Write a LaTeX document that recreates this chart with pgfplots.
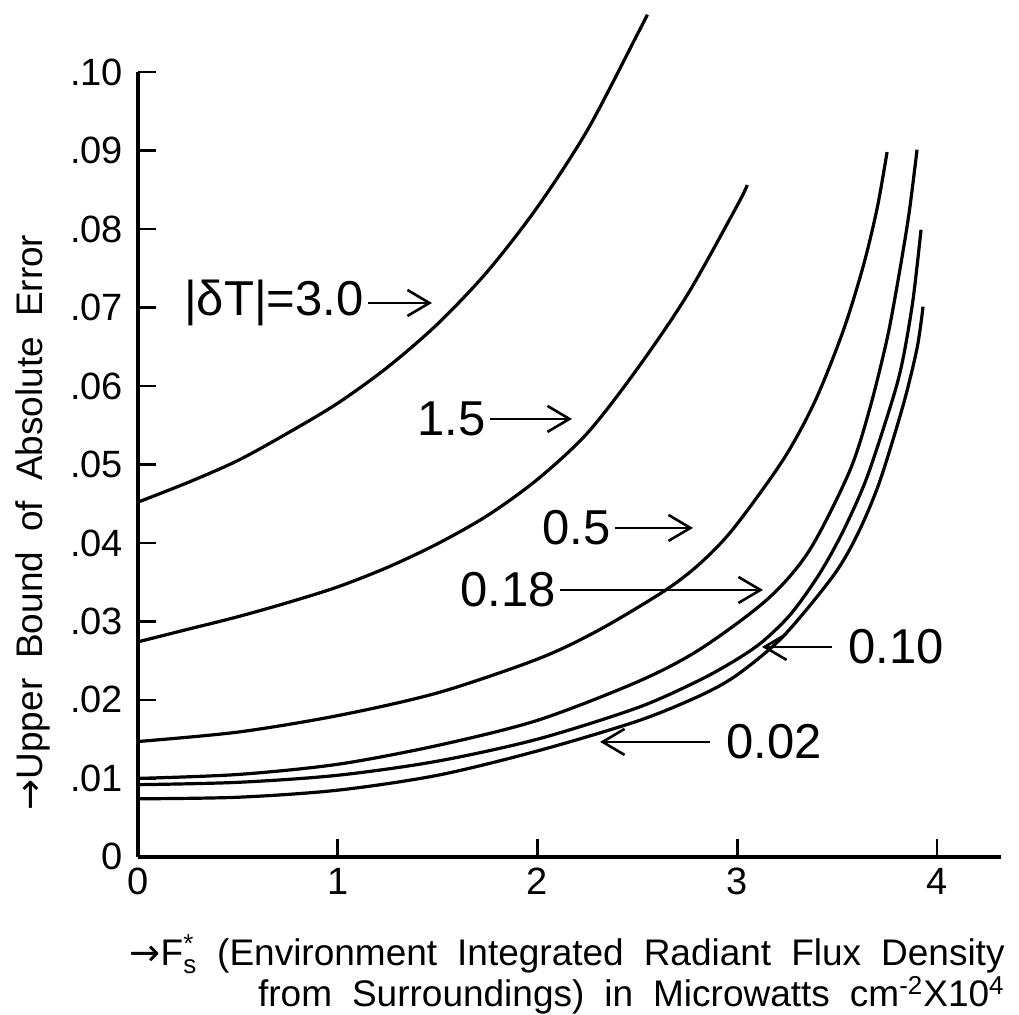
\documentclass[border=0pt]{standalone}
\usepackage{amsmath}
\usepackage{fontspec}
\setmainfont{Liberation Sans}
\newfontfamily\arrowfont{DejaVu Sans}
\usepackage{pgfplots}
\pgfplotsset{compat=1.18}
\usetikzlibrary{arrows.meta}

\newcommand\lblfont{\fontsize{18.5}{16.5}\selectfont\spaceskip=10pt plus 2pt minus 2pt\relax}
\newcommand\tickfont{\fontsize{19}{20}\selectfont}
\newcommand\curvefont{\fontsize{24.5}{28}\selectfont}
\newcommand\ar{{\arrowfont →}}

\begin{document}
\begin{tikzpicture}
\begin{axis}[
    scale only axis,
    width=431.5pt, height=392.5pt,
    xmin=0, xmax=4.32, ymin=0, ymax=0.10,
    axis x line*=bottom, axis y line*=left,
    axis line style={line width=1.6pt},
    xtick={0,1,2,3,4},
    xticklabels={0,1,2,3,4},
    ytick={0,0.01,0.02,0.03,0.04,0.05,0.06,0.07,0.08,0.09,0.10},
    yticklabels={0,.01,.02,.03,.04,.05,.06,.07,.08,.09,.10},
    tick align=inside,
    major tick length=9pt,
    tick style={line width=1.4pt, black},
    ticklabel style={font=\tickfont},
    yticklabel style={xshift=-4pt},
    xticklabel style={yshift=-2pt},
    clip=false,
]
% invisible frame so the page keeps the reference proportions
\path (axis cs:-0.6909,-0.01847) rectangle (axis cs:4.4105,0.10917);

% |dT| = 3.0
\addplot[smooth, line width=1.6pt] coordinates {
    (0,0.0452) (0.25,0.0477) (0.5,0.0505) (0.75,0.0540) (1.0,0.0578)
    (1.25,0.0624) (1.5,0.0679) (1.75,0.0746) (2.0,0.0828) (2.25,0.0926)
    (2.5,0.1048) (2.55,0.1073)
};
% 1.5
\addplot[smooth, line width=1.6pt] coordinates {
    (0,0.0274) (0.25,0.0290) (0.5,0.0306) (0.75,0.0324) (1.0,0.0344)
    (1.25,0.0369) (1.5,0.0399) (1.75,0.0435) (2.0,0.0481) (2.25,0.0540)
    (2.5,0.0622) (2.75,0.0716) (3.0,0.0830) (3.05,0.0856)
};
% 0.5
\addplot[smooth, line width=1.6pt] coordinates {
    (0,0.0147) (0.5,0.0159) (1.0,0.0180) (1.5,0.0209) (2.0,0.0252)
    (2.3,0.0288) (2.63,0.0338) (2.81,0.0373) (2.98,0.0418) (3.23,0.0506)
    (3.39,0.0581) (3.53,0.0670) (3.63,0.0752) (3.70,0.0826) (3.75,0.0898)
};
% 0.18
\addplot[smooth, line width=1.6pt] coordinates {
    (0,0.0100) (0.5,0.0105) (1.0,0.0118) (1.5,0.0142) (2.0,0.0174)
    (2.5,0.0223) (2.81,0.0264) (3.15,0.0328) (3.36,0.0390) (3.56,0.0490)
    (3.66,0.0568) (3.75,0.0660) (3.81,0.0742) (3.86,0.0820) (3.90,0.0901)
};
% 0.10
\addplot[smooth, line width=1.6pt] coordinates {
    (0,0.0092) (0.5,0.0095) (1.0,0.0104) (1.5,0.0122) (2.0,0.0150)
    (2.5,0.0190) (2.81,0.0225) (3.0,0.0252) (3.13,0.0275) (3.27,0.0310)
    (3.41,0.0360) (3.53,0.0415) (3.65,0.0484) (3.78,0.0585) (3.83,0.0635)
    (3.88,0.0710) (3.92,0.0799)
};
% 0.02
\addplot[smooth, line width=1.6pt] coordinates {
    (0,0.0074) (0.5,0.0076) (1.0,0.0085) (1.5,0.0104) (2.0,0.0135)
    (2.5,0.0173) (2.81,0.0205) (3.0,0.0232) (3.23,0.0281) (3.48,0.0358)
    (3.60,0.0410) (3.71,0.0476) (3.83,0.0575) (3.90,0.0648) (3.93,0.0701)
};

% curve labels
\tikzset{lab/.style={-{Straight Barb[length=11pt,width=13pt,line width=1.3pt]}, line width=1.3pt}}
\draw[lab] (axis cs:1.1514,0.07057) -- (axis cs:1.4718,0.07057);
\node[anchor=east, inner sep=2pt, font=\curvefont] at (axis cs:1.1514,0.07057) {|δT|=3.0};
\draw[lab] (axis cs:1.7622,0.0558) -- (axis cs:2.1727,0.0558);
\node[anchor=east, inner sep=2pt, font=\curvefont] at (axis cs:1.7622,0.0558) {1.5};
\draw[lab] (axis cs:2.388,0.04191) -- (axis cs:2.7785,0.04191);
\node[anchor=east, inner sep=2pt, font=\curvefont] at (axis cs:2.388,0.04191) {0.5};
\draw[lab] (axis cs:2.1126,0.03401) -- (axis cs:3.1289,0.03401);
\node[anchor=east, inner sep=2pt, font=\curvefont] at (axis cs:2.1126,0.03401) {0.18};
\draw[lab] (axis cs:3.4743,0.02675) -- (axis cs:3.1239,0.02675);
\node[anchor=west, inner sep=2pt, font=\curvefont] at (axis cs:3.5345,0.02675) {0.10};
\draw[lab] (axis cs:2.8636,0.01465) -- (axis cs:2.3129,0.01465);
\node[anchor=west, inner sep=2pt, font=\curvefont] at (axis cs:2.924,0.01465) {0.02};

% axis titles
\node[rotate=90, anchor=base, font=\lblfont] at (axis cs:-0.4806,0.0426)
    {\ar Upper Bound of Absolute Error};
\node[anchor=north east, align=right, font=\lblfont, inner sep=0pt] at (axis cs:4.3404,-0.0099)
    {\ar F$^{\text{*}}_{\text{s}}$ (Environment Integrated Radiant Flux Density\\
     from Surroundings) in Microwatts cm$^{\text{-2}}$X10$^{\text{4}}$};
\end{axis}
\end{tikzpicture}
\end{document}
